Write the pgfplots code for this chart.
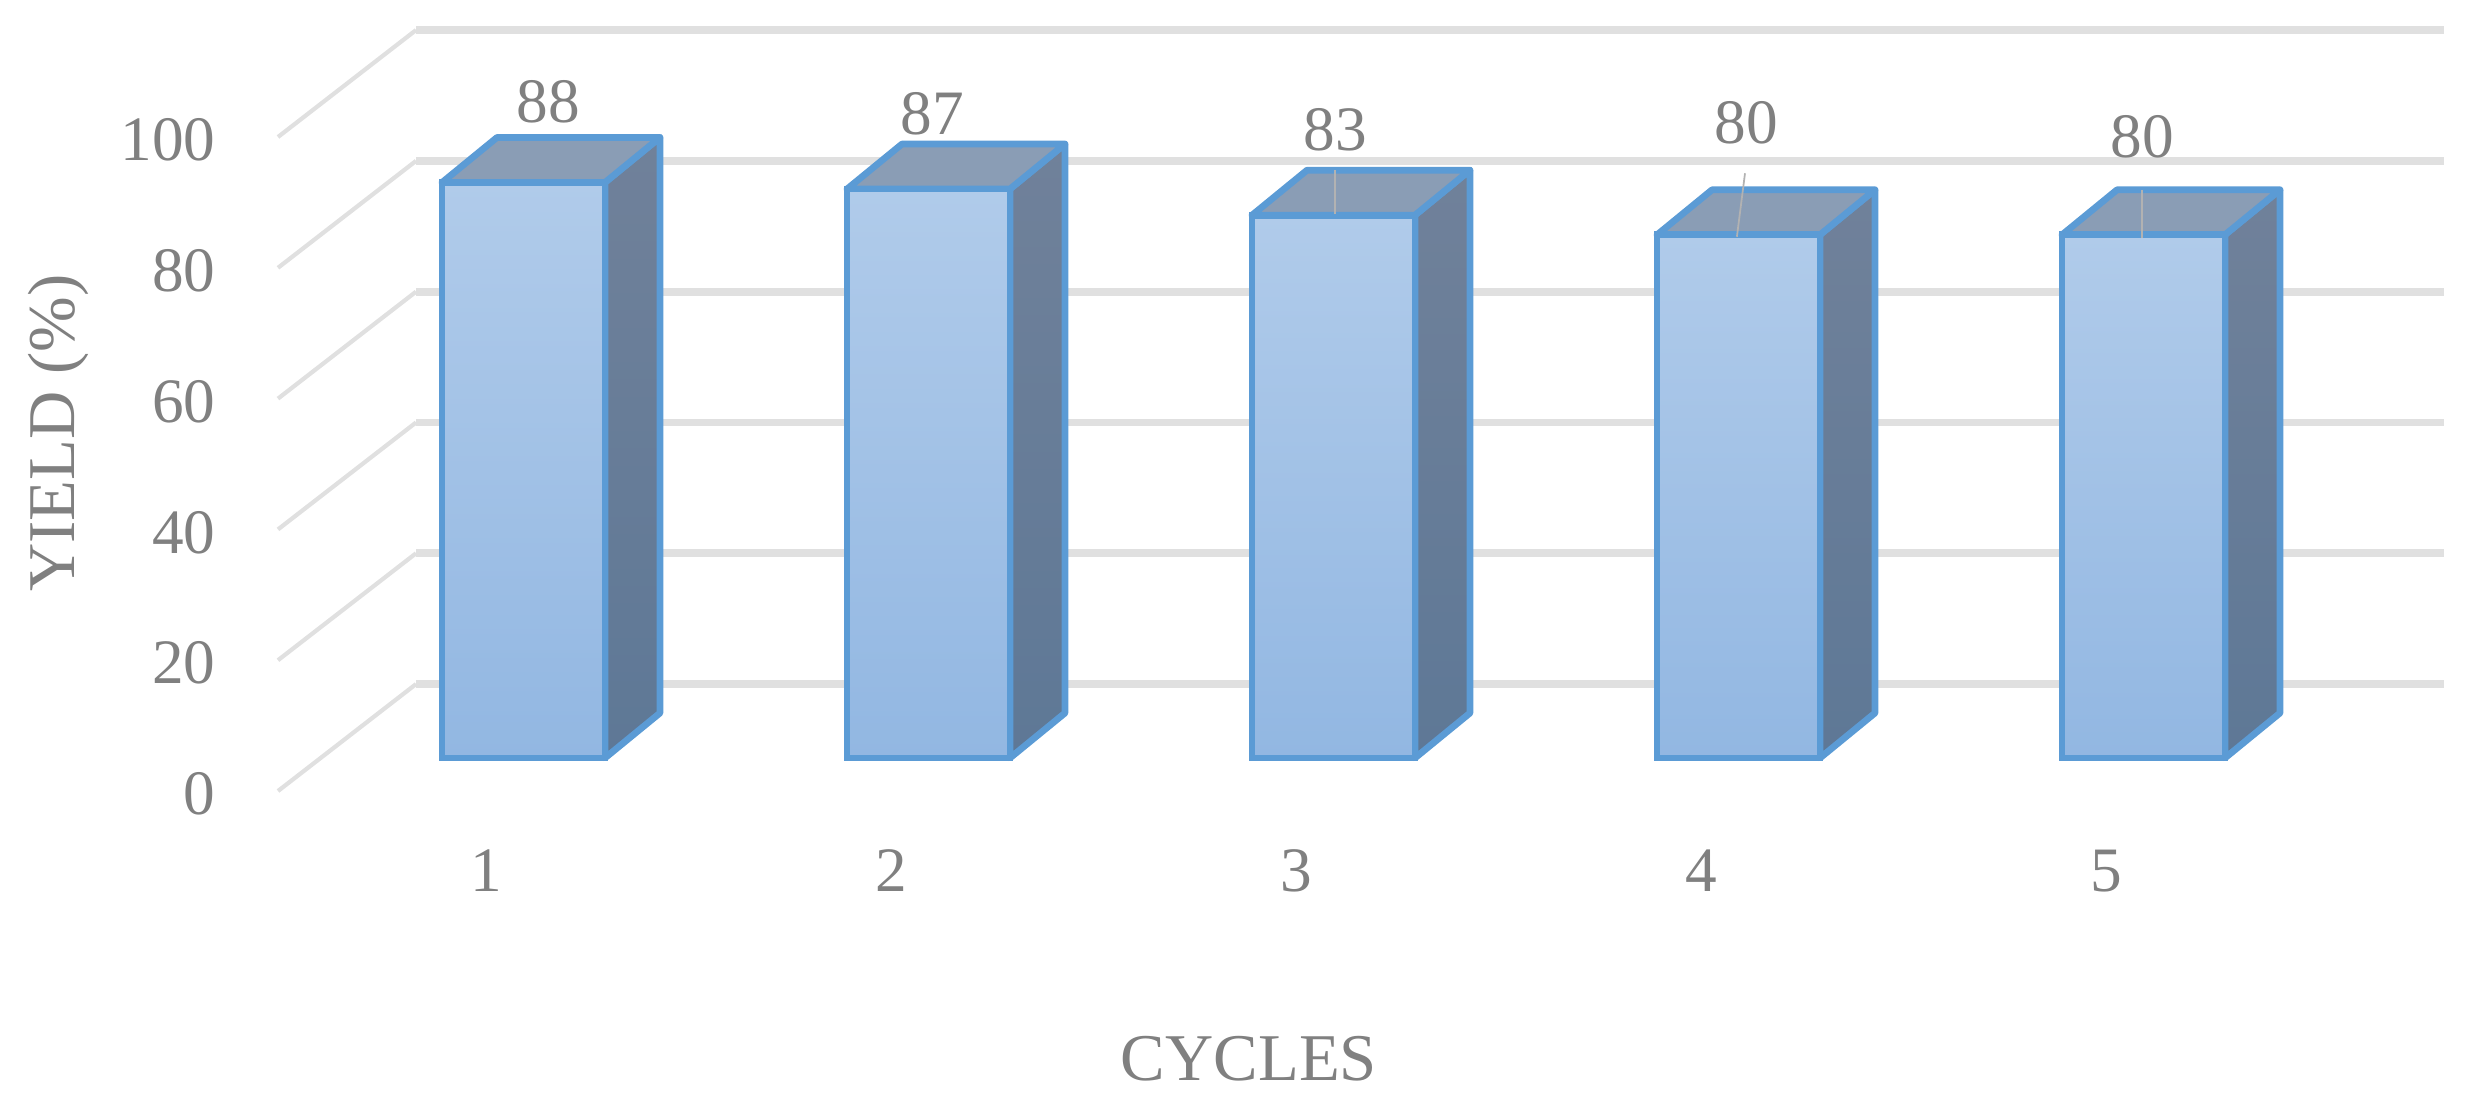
\documentclass[border=0pt]{standalone}
\usepackage{fontspec}
\setmainfont{Liberation Serif}
\usepackage{pgfplots}
\pgfplotsset{compat=1.18}

\definecolor{txt}{HTML}{808080}
\definecolor{gridc}{HTML}{E0E0E0}
\definecolor{edge}{HTML}{5B9BD5}
\definecolor{toplid}{HTML}{8A9DB5}
\definecolor{sidehi}{HTML}{70819A}
\definecolor{sidelo}{HTML}{5E7896}
\definecolor{barhi}{HTML}{B0CBEA}
\definecolor{barlo}{HTML}{92B7E2}

% half bar width and depth offset, in axis units
\newcommand{\hw}{0.2012}
\newcommand{\dx}{0.1358}
\newcommand{\dy}{6.88}

% one 3D looking bar: #1 cycle, #2 yield
\newcommand{\cube}[2]{%
  \pgfmathsetmacro\xa{#1+\hw}%
  \pgfmathsetmacro\xb{#1+\hw+\dx}%
  \pgfmathsetmacro\xc{#1-\hw}%
  \pgfmathsetmacro\xd{#1-\hw+\dx}%
  \pgfmathsetmacro\yt{#2+\dy}%
  \addplot[draw=edge,line width=1.9pt,line join=round,top color=sidehi,bottom color=sidelo]
    coordinates {(\xa,0) (\xb,\dy) (\xb,\yt) (\xa,#2)} --cycle;
  \addplot[draw=edge,line width=1.9pt,line join=round,fill=toplid]
    coordinates {(\xc,#2) (\xd,\yt) (\xb,\yt) (\xa,#2)} --cycle;
  \addplot[ybar,bar width=0.402,bar shift=0pt,draw=edge,line width=1.9pt,
    top color=barhi,bottom color=barlo] coordinates {(#1,#2)};
}

% wall line: #1 value
\newcommand{\wall}[1]{%
  \pgfmathsetmacro\yb{#1+11.3}%
  \pgfmathsetmacro\yf{#1-5.05}%
  \addplot[gridc,line width=1.2pt] coordinates {(0.3938,\yf) (0.7346,\yb)};
  \addplot[gridc,line width=2.2pt] coordinates {(0.7346,\yb) (5.7420,\yb)};
}

\begin{document}
\begin{tikzpicture}
\begin{axis}[
    scale only axis,
    width=24.85cm,
    height=11.02cm,
    xmin=-0.2926, xmax=5.8432,
    ymin=-52.6, ymax=115.9,
    clip=false,
    axis line style={draw=none},
    tick style={draw=none},
    axis x line*=bottom,
    axis y line*=left,
    xtick={1,2,3,4,5},
    ytick={0,20,40,60,80,100},
    /pgf/number format/assume math mode=true,
    xticklabel style={font=\fontsize{18}{20}\selectfont,text=txt,anchor=center,xshift=-0.37cm,yshift=2.31cm},
    yticklabel style={font=\fontsize{18}{20}\selectfont,text=txt,anchor=east,xshift=2.28cm,yshift=-0.36cm},
    xlabel={CYCLES},
    ylabel={YIELD (\%)},
    xlabel style={at={(axis description cs:0.5026,0.039)},anchor=center,font=\fontsize{19}{21}\selectfont,text=txt},
    ylabel style={at={(axis description cs:0.0235,0.607)},anchor=center,font=\fontsize{19}{21}\selectfont,text=txt},
]
\wall{0}
\wall{20}
\wall{40}
\wall{60}
\wall{80}
\wall{100}

\cube{1}{88}
\cube{2}{87}
\cube{3}{83}
\cube{4}{80}
\cube{5}{80}

% leader lines of the data labels
\addplot[gray!60,line width=0.5pt] coordinates {(3.004,89.9) (3.004,83.2)};
\addplot[gray!60,line width=0.5pt] coordinates {(4.016,89.4) (3.996,79.7)};
\addplot[gray!60,line width=0.5pt] coordinates {(4.996,86.9) (4.996,79.5)};

\begin{scope}[every node/.style={font=\fontsize{18}{20}\selectfont,text=txt,anchor=center,inner sep=0pt}]
\node at (axis cs:1.0605,100.3) {88};
\node at (axis cs:2.0086,98.5) {87};
\node at (axis cs:3.0037,96.0) {83};
\node at (axis cs:4.0185,97.1) {80};
\node at (axis cs:4.9963,95.0) {80};
\end{scope}
\end{axis}
\end{tikzpicture}
\end{document}
